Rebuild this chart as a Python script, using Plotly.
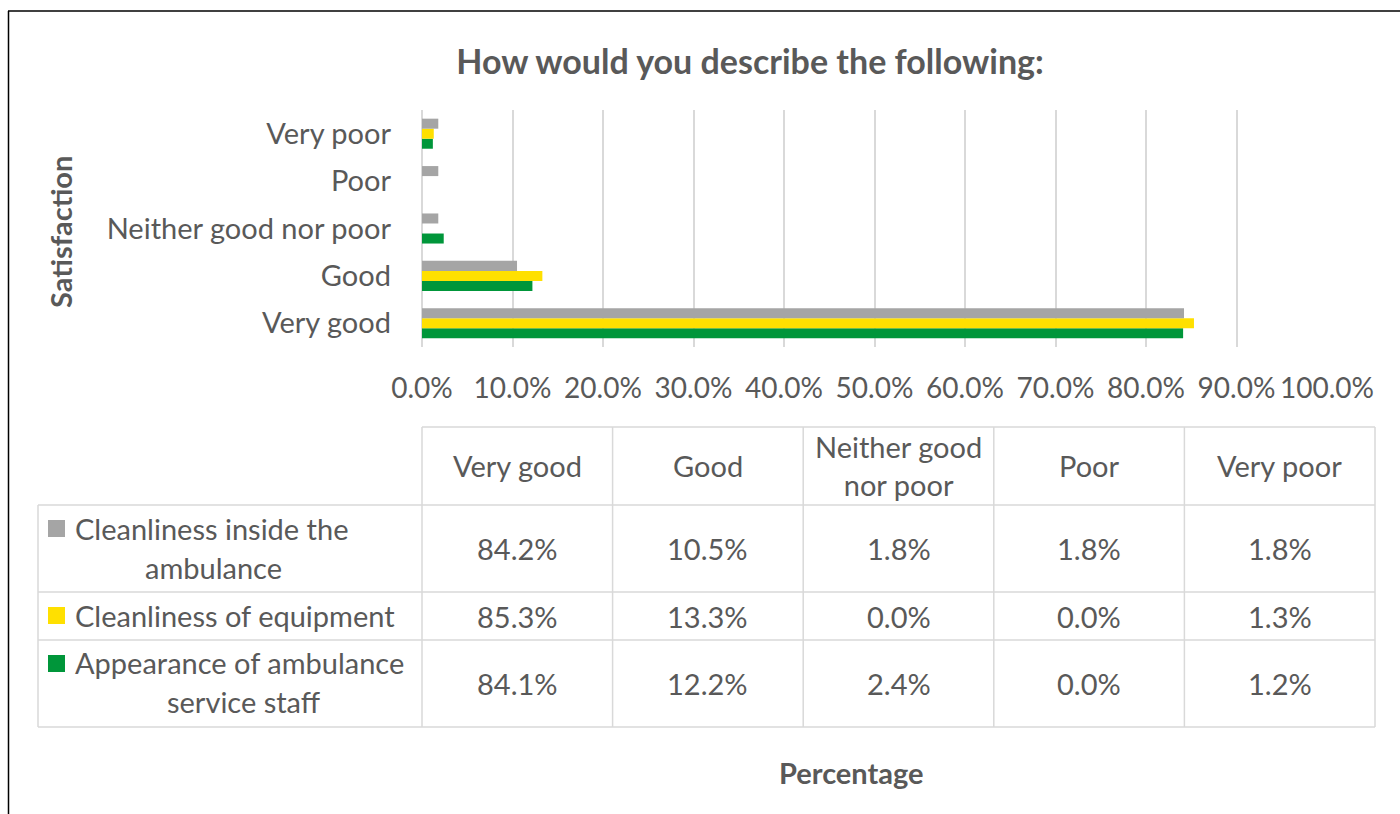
import plotly.graph_objects as go

# ---------------- data ----------------
categories = ["Very good", "Good", "Neither good nor poor", "Poor", "Very poor"]
header_labels = ["Very good", "Good", "Neither good<br>nor poor", "Poor", "Very poor"]
series_names = ["Cleanliness inside the ambulance",
                "Cleanliness of equipment",
                "Appearance of ambulance service staff"]
clean_inside = [84.2, 10.5, 1.8, 1.8, 1.8]
clean_equipment = [85.3, 13.3, 0.0, 0.0, 1.3]
staff_appearance = [84.1, 12.2, 2.4, 0.0, 1.2]
series_colors = ["#A5A5A5", "#FFE000", "#00963A"]
x_ticks = [0, 10, 20, 30, 40, 50, 60, 70, 80, 90, 100]
x_tick_labels = ["0.0%", "10.0%", "20.0%", "30.0%", "40.0%", "50.0%",
                 "60.0%", "70.0%", "80.0%", "90.0%", "100.0%"]

series_values = [clean_inside, clean_equipment, staff_appearance]

# ---------------- layout geometry (screen pixels) ----------------
W, H = 1400, 814
SL, SR, ST, SB = 422, 1327, 110, 347          # plot area on screen
FONT = "Lato"
TXT = "#595959"
GRID = "#D9D9D9"


def px(x):
    return (x - SL) / (SR - SL)


def py(y):
    return (SB - y) / (SB - ST)


fig = go.Figure()
# add in reverse so the first series sits at the top of each group
for name, vals, col in reversed(list(zip(series_names, series_values, series_colors))):
    fig.add_trace(go.Bar(
        y=categories, x=vals, name=name, orientation="h",
        marker=dict(color=col, line=dict(width=0)),
        showlegend=False,
    ))

shapes = []
annotations = []

# chart border (black)
shapes.append(dict(type="line", xref="paper", yref="paper",
                   x0=px(8), x1=px(1420), y0=py(11), y1=py(11),
                   line=dict(color="black", width=1.5)))
shapes.append(dict(type="line", xref="paper", yref="paper",
                   x0=px(8.5), x1=px(8.5), y0=py(11), y1=py(830),
                   line=dict(color="black", width=1.5)))

# ---------------- data table ----------------
col_edges = [SL + i * (1375 - SL) / 5 for i in range(6)]
row_edges = [427, 505, 592, 640, 727]
left_edge = 38

shapes.append(dict(type="line", xref="paper", yref="paper",
                   x0=px(col_edges[0]), x1=px(col_edges[-1]),
                   y0=py(row_edges[0]), y1=py(row_edges[0]),
                   line=dict(color=GRID, width=1.5)))
for ry in row_edges[1:]:
    shapes.append(dict(type="line", xref="paper", yref="paper",
                       x0=px(left_edge), x1=px(col_edges[-1]),
                       y0=py(ry), y1=py(ry),
                       line=dict(color=GRID, width=1.5)))
shapes.append(dict(type="line", xref="paper", yref="paper",
                   x0=px(left_edge), x1=px(left_edge),
                   y0=py(row_edges[1]), y1=py(row_edges[-1]),
                   line=dict(color=GRID, width=1.5)))
for cx in col_edges:
    shapes.append(dict(type="line", xref="paper", yref="paper",
                       x0=px(cx), x1=px(cx),
                       y0=py(row_edges[0]), y1=py(row_edges[-1]),
                       line=dict(color=GRID, width=1.5)))

cell_font = dict(family=FONT, size=29, color=TXT)

for i, lab in enumerate(header_labels):
    cxm = (col_edges[i] + col_edges[i + 1]) / 2
    cym = (row_edges[0] + row_edges[1]) / 2
    annotations.append(dict(x=px(cxm), y=py(cym), xref="paper", yref="paper",
                            text=lab, showarrow=False, font=cell_font,
                            xanchor="center", yanchor="middle", align="center"))

for r, vals in enumerate(series_values):
    cym = (row_edges[r + 1] + row_edges[r + 2]) / 2
    for i, v in enumerate(vals):
        cxm = (col_edges[i] + col_edges[i + 1]) / 2
        annotations.append(dict(x=px(cxm), y=py(cym), xref="paper", yref="paper",
                                text=f"{v:.1f}%", showarrow=False, font=cell_font,
                                xanchor="center", yanchor="middle"))

label_lines = [
    [("Cleanliness inside the", 73, 528, "left"), ("ambulance", 213, 567, "center")],
    [("Cleanliness of equipment", 73, 615, "left")],
    [("Appearance of ambulance", 73, 663, "left"), ("service staff", 243, 702, "center")],
]
marker_tops = [520, 607, 655]
for r in range(3):
    shapes.append(dict(type="rect", xref="paper", yref="paper",
                       x0=px(48), x1=px(65), y0=py(marker_tops[r]), y1=py(marker_tops[r] + 17),
                       fillcolor=series_colors[r], line=dict(width=0)))
    for text, x, y, anc in label_lines[r]:
        annotations.append(dict(x=px(x), y=py(y), xref="paper", yref="paper",
                                text=text, showarrow=False, font=cell_font,
                                xanchor=anc, yanchor="middle"))

annotations.append(dict(x=px(60), y=py(232), xref="paper", yref="paper",
                        text="<b>Satisfaction</b>", textangle=-90, showarrow=False,
                        font=dict(family=FONT, size=29, color=TXT),
                        xanchor="center", yanchor="middle"))
annotations.append(dict(x=px(851), y=py(772), xref="paper", yref="paper",
                        text="<b>Percentage</b>", showarrow=False,
                        font=dict(family=FONT, size=29, color=TXT),
                        xanchor="center", yanchor="middle"))

fig.update_layout(
    width=W, height=H, autosize=False,
    margin=dict(l=SL, r=W - SR, t=ST, b=H - SB, pad=0),
    paper_bgcolor="white", plot_bgcolor="white",
    barmode="group", bargap=0.366, bargroupgap=0,
    title=dict(text="<b>How would you describe the following:</b>",
               x=750 / W, xanchor="center", y=1 - 62 / H, yanchor="middle",
               font=dict(family=FONT, size=34, color=TXT)),
    xaxis=dict(range=[0, 100], tickvals=x_ticks, ticktext=x_tick_labels,
               showgrid=True, gridcolor=GRID, gridwidth=1.5,
               zeroline=True, zerolinecolor=GRID, zerolinewidth=1.5,
               showline=False, ticks="", ticklabelstandoff=22,
               tickfont=dict(family=FONT, size=28, color=TXT), fixedrange=True),
    yaxis=dict(categoryorder="array", categoryarray=categories,
               showgrid=False, zeroline=False, showline=False, ticks="",
               ticklabelstandoff=30,
               tickfont=dict(family=FONT, size=29, color=TXT), fixedrange=True),
    shapes=shapes,
    annotations=annotations,
    font=dict(family=FONT, color=TXT),
)

fig.write_html(
    "out.html",
    config={"displayModeBar": False},
    post_script="document.body.style.margin='0';document.body.style.overflow='hidden';",
)
